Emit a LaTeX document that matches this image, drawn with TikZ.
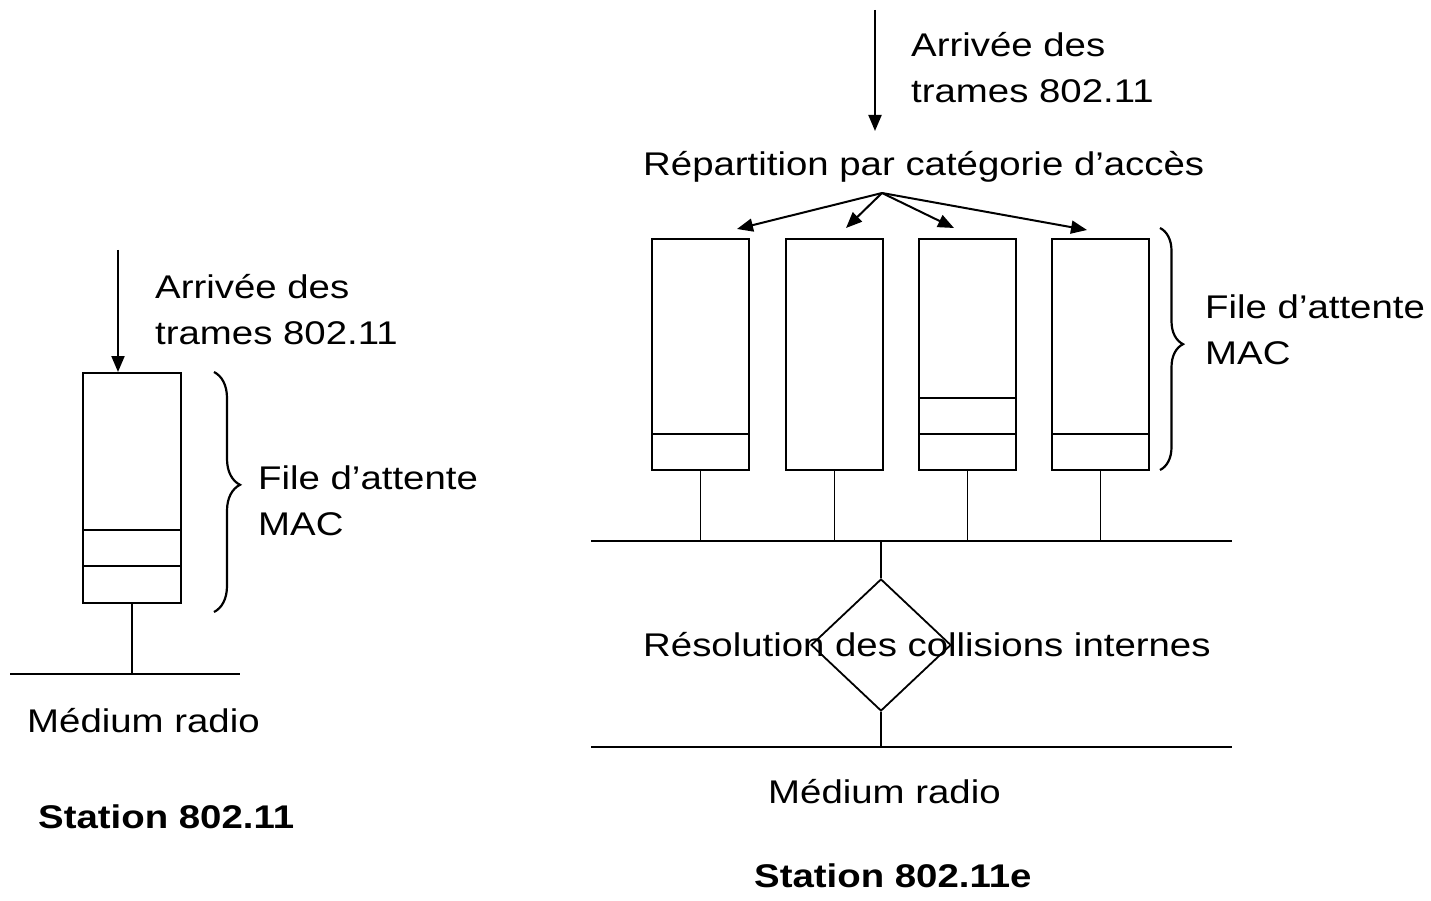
\documentclass[tikz,border=0pt]{standalone}
\usepackage{fontspec}
\setmainfont{Liberation Sans}
\usetikzlibrary{arrows.meta,shapes.geometric,decorations.pathreplacing}
\newcommand{\sx}[1]{\scalebox{1.17}[1]{#1}}
\tikzset{
  txt/.style={inner sep=0pt, anchor=base west, font=\fontsize{32.8}{40}\selectfont},
  btxt/.style={txt, font=\fontsize{32.8}{40}\selectfont\bfseries},
  queue/.style={draw, line width=1.8pt, rectangle, inner sep=0pt, minimum width=97pt, minimum height=231pt, anchor=north west},
  thin/.style={line width=1.8pt},
  arr/.style={line width=2pt, -{Triangle[length=16pt,width=13pt]}},
  bracestyle/.style={line width=2.2pt, decorate}
}
\begin{document}
\begin{tikzpicture}[x=1pt,y=-1pt]
\useasboundingbox (0,0) rectangle (1431,901);

% ---------------- Left station ----------------
\node[queue, minimum width=98pt, minimum height=230pt] (lbox) at (82,372) {};
\draw[thin] (82,530) -- (180,530);
\draw[thin] (82,566) -- (180,566);
\coordinate (lin) at (118,250);
\draw[arr] (lin) -- (lin |- lbox.north);
\node[txt] (larr1) at (155,298) {\sx{Arrivée des}};
\node[txt] (larr2) at (155,344) {\sx{trames 802.11}};
\coordinate (lbusL) at (10,674);
\coordinate (lbusR) at (240,674);
\draw[thin] (lbusL) -- (lbusR);
\draw[thin] (lbox.south) -- (lbox.south |- lbusL);
\draw[bracestyle, decoration={brace, amplitude=26pt, aspect=0.47}] (214,372) -- (214,612);
\node[txt] (lfile1) at (258,489) {\sx{File d’attente}};
\node[txt] (lfile2) at (258,535) {\sx{MAC}};
\node[txt] (lmed) at (27,732) {\sx{Médium radio}};
\node[btxt] (lsta) at (38,828) {\sx{Station 802.11}};

% ---------------- Right station ----------------
\coordinate (rin) at (875,10);
\coordinate (rinend) at (875,131);
\draw[arr] (rin) -- (rinend);
\node[txt] (rarr1) at (911,57) {\sx{Arrivée des}};
\node[txt] (rarr2) at (911,103) {\sx{trames 802.11}};
\node[txt] (rep) at (643,176) {\sx{Répartition par catégorie d’accès}};

\node[queue] (b1) at (651,238) {};
\node[queue] (b2) at (785,238) {};
\node[queue] (b3) at (918,238) {};
\node[queue] (b4) at (1051,238) {};
\draw[thin] (651,434) -- (748,434);
\draw[thin] (918,398) -- (1015,398);
\draw[thin] (918,434) -- (1015,434);
\draw[thin] (1051,434) -- (1148,434);

\coordinate (apex) at (882,193);
\coordinate (t1) at (737,229);
\coordinate (t2) at (846,228);
\coordinate (t3) at (954,228);
\coordinate (t4) at (1087,230);
\foreach \t in {t1,t2,t3,t4} \draw[arr] (apex) -- (\t);

\draw[bracestyle, decoration={brace, amplitude=23pt, aspect=0.48}] (1160,228) -- (1160,470);
\node[txt] (rfile1) at (1205,318) {\sx{File d’attente}};
\node[txt] (rfile2) at (1205,364) {\sx{MAC}};

\coordinate (bus1L) at (591,541);
\coordinate (bus1R) at (1232,541);
\draw[thin] (bus1L) -- (bus1R);
\foreach \b in {b1,b2,b3,b4} \draw[thin] (\b.south) -- (\b.south |- bus1L);

\node[draw, thin, diamond, inner sep=0pt, minimum width=140pt, minimum height=132pt] (dia) at (881,645) {};
\draw[thin] (dia.north) -- (dia.north |- bus1L);
\coordinate (bus2L) at (591,747);
\coordinate (bus2R) at (1232,747);
\draw[thin] (bus2L) -- (bus2R);
\draw[thin] (dia.south) -- (dia.south |- bus2L);
\node[txt] (res) at (643,656) {\sx{Résolution des collisions internes}};
\node[txt] (rmed) at (768,803) {\sx{Médium radio}};
\node[btxt] (rsta) at (754,887) {\sx{Station 802.11e}};
\end{tikzpicture}
\end{document}
